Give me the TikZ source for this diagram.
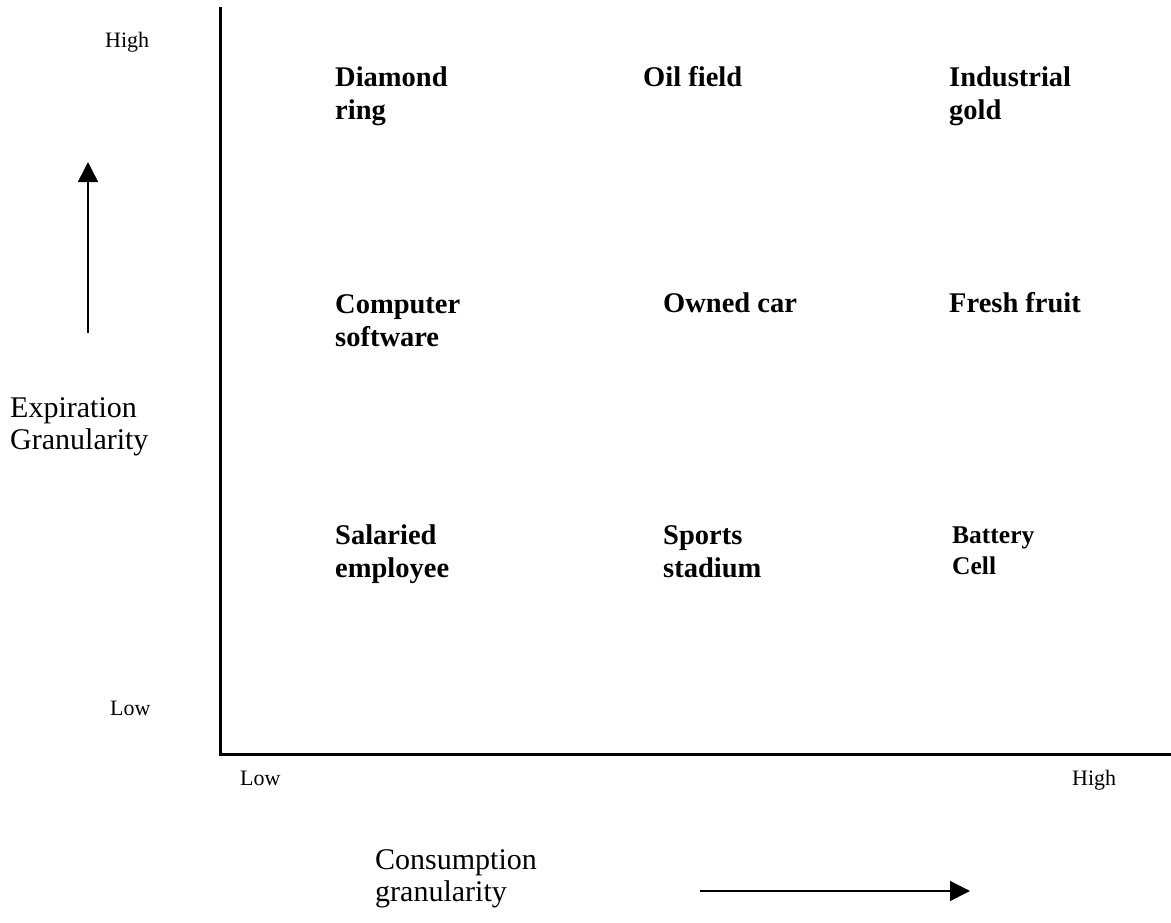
\documentclass[tikz,border=0pt]{standalone}
\usepackage{fontspec}
\setmainfont{Liberation Serif}
\usetikzlibrary{arrows.meta}

\tikzset{
  item/.style={anchor=base west, inner sep=0pt, align=left,
    font=\fontsize{28.5}{33}\selectfont\bfseries},
  small item/.style={item, font=\fontsize{25.5}{31}\selectfont\bfseries},
  level/.style={anchor=base west, inner sep=0pt, font=\fontsize{22}{26}\selectfont},
  axis title/.style={anchor=base west, inner sep=0pt, align=left,
    font=\fontsize{30}{32}\selectfont},
  pointer/.style={line width=1.5pt, -{Triangle[length=20pt, width=20pt]}}
}

\begin{document}
\begin{tikzpicture}[x=1pt, y=-1pt]
\useasboundingbox (0,0) rectangle (1171,922);

% axes
\draw[line width=3pt] (220,7) -- (220,754) -- (1171,754);

% level marks
\node[level] (yhigh) at (105,47) {High};
\node[level] (ylow) at (110,715) {Low};
\node[level] (xlow) at (240,785) {Low};
\node[level] (xhigh) at (1072,785) {High};

% axis titles (anchored on the last line)
\node[axis title] (ytitle) at (10,449) {Expiration\\Granularity};
\node[axis title] (xtitle) at (375,901) {Consumption\\granularity};

% direction arrows
\coordinate (ytail) at (88,333);
\coordinate (yhead) at (88,162);
\draw[pointer] (ytail) -- (yhead);

\coordinate (xtail) at (700,891);
\coordinate (xhead) at (970,891);
\draw[pointer] (xtail) -- (xhead);

% top row
\node[item] (diamond) at (335,119) {Diamond\\ring};
\node[item] (oil) at (643,86) {Oil field};
\node[item] (gold) at (949,119) {Industrial\\gold};

% middle row
\node[item] (software) at (335,346) {Computer\\software};
\node[item] (car) at (663,312) {Owned car};
\node[item] (fruit) at (949,312) {Fresh fruit};

% bottom row
\node[item] (employee) at (335,577) {Salaried\\employee};
\node[item] (stadium) at (663,577) {Sports\\stadium};
\node[small item] (battery) at (952,574) {Battery\\Cell};

\end{tikzpicture}
\end{document}
